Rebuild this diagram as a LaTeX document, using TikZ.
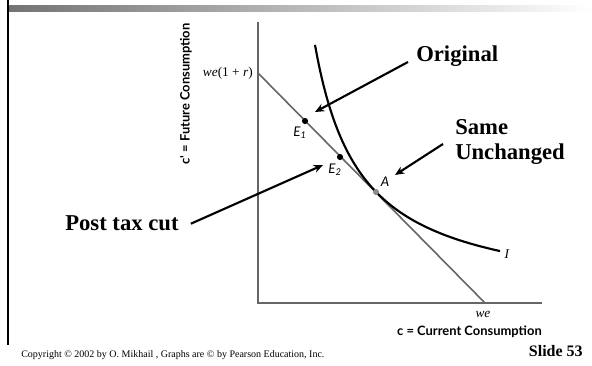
\documentclass[tikz,border=0pt]{standalone}
\usepackage{fontspec}
\setmainfont{Liberation Serif}
\newfontfamily\axisfont{Lato}
\usetikzlibrary{arrows.meta,positioning}

\begin{document}
\begin{tikzpicture}[x=0.75pt, y=-0.75pt, >={Stealth[length=7pt,width=6pt]},
    note/.style={font=\fontsize{17}{20}\selectfont\bfseries, inner sep=0pt},
    ptr/.style={->, line width=1.6pt},
    axis/.style={line width=1.2pt, draw=black!60},
    axlbl/.style={font=\axisfont\fontsize{9.7}{11}\selectfont\bfseries, inner sep=0pt},
    ptlbl/.style={font=\axisfont\fontsize{10}{12}\selectfont\itshape, inner sep=0pt},
    mathlbl/.style={font=\fontsize{10}{12}\selectfont, inner sep=0pt}]
    \useasboundingbox (0,0) rectangle (592,366);

    % Slide frame
    \shade[left color=black!55, right color=white] (7,6) rectangle (592,12);
    \draw[line width=1.5pt] (8,0) -- (8,345);

    % Axes
    \coordinate (top) at (258,22);
    \coordinate (O) at (258,303);
    \coordinate (right) at (542,303);
    \draw[axis] (top) -- (O) -- (right);
    \node[axlbl, rotate=90] (ylab) at (186,94) {c' = Future Consumption};
    \node[axlbl, anchor=east] (xlab) at (542,332) {c = Current Consumption};

    % Budget line
    \coordinate (yint) at (258,73);
    \coordinate (xint) at (485,303);
    \draw[axis] (yint) -- (xint);
    \node[mathlbl, anchor=east] (ylbl) at (253,73) {\textit{we}(1 + \textit{r})};
    \node[mathlbl] (xlbl) at (483,314) {\textit{we}};

    % Indifference curve
    \draw[line width=1.6pt] plot[domain=315:500, samples=80, smooth] (\x,{302-11750/(\x-269.3)});
    \node[mathlbl] (ilbl) at (507,254) {\textit{I}};

    % Points on the budget line
    \coordinate (E1) at (305,121);
    \coordinate (E2) at (340,157);
    \coordinate (A) at (376,192);
    \fill (E1) circle (2.3pt);
    \fill (E2) circle (2.3pt);
    \fill[black!45] (A) circle (2.3pt);
    \node[ptlbl] (e1lbl) at (300,133) {E\textsubscript{1}};
    \node[ptlbl] (e2lbl) at (335,170) {E\textsubscript{2}};
    \node[ptlbl] (albl) at (385,182) {A};

    % Notes
    \node[note, anchor=base west] (orig) at (416,62) {Original};
    \coordinate (origtip) at (315,112);
    \draw[ptr] ([xshift=-6pt]orig.base west) -- (origtip);

    \node[note, anchor=base west] (same) at (455,135) {Same};
    \node[note, anchor=base west] (unch) at (455,160) {Unchanged};
    \coordinate (atip) at (395,175);
    \draw[ptr] ([xshift=-9pt]unch.north west) -- (atip);

    \node[note, anchor=base west] (post) at (65,231) {Post tax cut};
    \coordinate (e2tip) at (323,165);
    \draw[ptr] ([xshift=9pt]post.east) -- (e2tip);

    % Footer
    \node[font=\fontsize{7.5}{9}\selectfont, inner sep=0pt, anchor=base west] (copy) at (21,357)
        {Copyright © 2002 by O. Mikhail , Graphs are © by Pearson Education, Inc.};
    \node[font=\fontsize{12}{14}\selectfont\bfseries, inner sep=0pt, anchor=base east] (slide) at (583,356) {Slide 53};
\end{tikzpicture}
\end{document}
